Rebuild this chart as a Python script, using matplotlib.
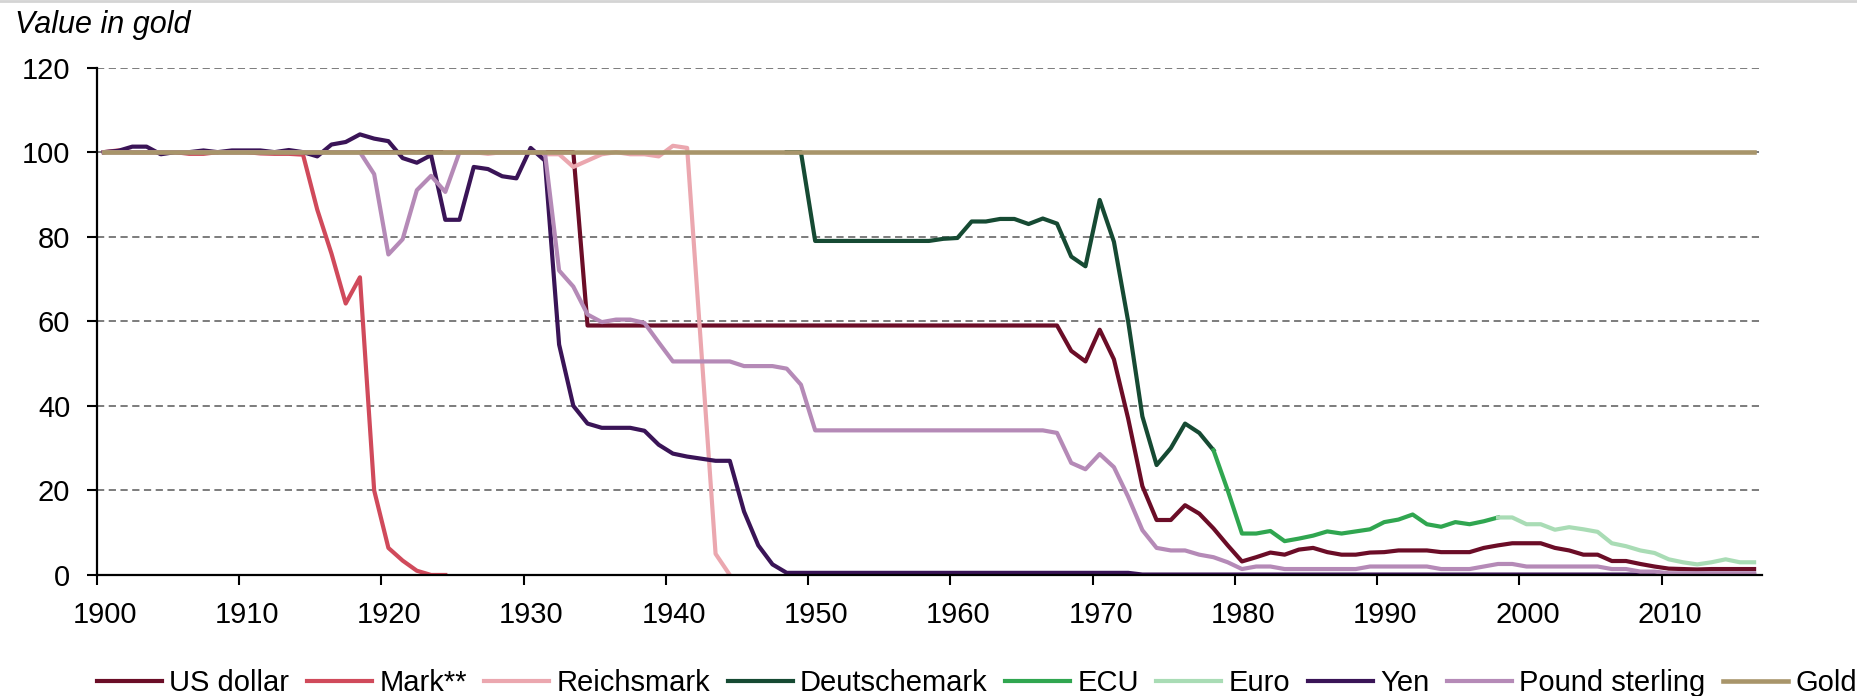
import numpy as np
import matplotlib
matplotlib.use("Agg")
from matplotlib import pyplot as plt
from matplotlib.lines import Line2D
from matplotlib.transforms import ScaledTranslation

# region data
title = "Value in gold"
y_ticks = [0, 20, 40, 60, 80, 100, 120]
x_ticks = [1900, 1910, 1920, 1930, 1940, 1950, 1960, 1970, 1980, 1990, 2000, 2010]

usd_years = np.arange(1900, 2017)
usd = [100, 100, 100, 100, 100, 100, 100, 100, 100, 100,
       100, 100, 100, 100, 100, 100, 100, 100, 100, 100,
       100, 100, 100, 100, 100, 100, 100, 100, 100, 100,
       100, 100, 100, 100, 59, 59, 59, 59, 59, 59,
       59, 59, 59, 59, 59, 59, 59, 59, 59, 59,
       59, 59, 59, 59, 59, 59, 59, 59, 59, 59,
       59, 59, 59, 59, 59, 59, 59, 59, 53, 50.5,
       58, 51, 37, 21, 13, 13, 16.5, 14.5, 11, 7,
       3.2, 4.2, 5.3, 4.8, 6, 6.4, 5.4, 4.8, 4.8, 5.3,
       5.4, 5.8, 5.8, 5.8, 5.4, 5.4, 5.4, 6.4, 7, 7.5,
       7.5, 7.5, 6.4, 5.8, 4.8, 4.8, 3.3, 3.3, 2.6, 2,
       1.5, 1.4, 1.3, 1.4, 1.4, 1.4, 1.4]

mark_years = np.arange(1900, 1925)
mark = [100, 100.4, 100, 100, 100, 100, 99.6, 99.6, 100, 100,
        100, 99.7, 99.6, 99.6, 99.4, 86.4, 76, 64.2, 70.4, 20,
        6.4, 3.4, 1, 0, 0]

reichsmark_years = np.arange(1924, 1945)
reichsmark = [100, 100, 100, 99.6, 100, 100,
              100, 99.5, 99.5, 96.5, 98, 99.5, 100, 99.5, 99.5, 99,
              101.5, 101, 53, 5, 0]

dm_years = np.arange(1948, 1979)
dm = [100, 100,
      79, 79, 79, 79, 79, 79, 79, 79, 79, 79.5,
      79.7, 83.6, 83.6, 84.2, 84.2, 83, 84.3, 83.1, 75.3, 73,
      88.7, 78.8, 60, 37.5, 26, 30, 35.8, 33.6, 29.5]

ecu_years = np.arange(1978, 1999)
ecu = [29.5, 20,
       9.8, 9.8, 10.4, 8, 8.6, 9.3, 10.3, 9.8, 10.3, 10.8,
       12.5, 13.1, 14.3, 12, 11.4, 12.5, 12, 12.7, 13.6]

euro_years = np.arange(1998, 2017)
euro = [13.6, 13.6,
        12, 12, 10.7, 11.3, 10.8, 10.2, 7.5, 6.8, 5.8, 5.2,
        3.7, 3, 2.5, 3, 3.7, 3, 3]

yen_years = np.arange(1900, 2017)
yen = [100, 100.3, 101.3, 101.3, 99.5, 100, 100, 100.4, 100, 100.4,
       100.4, 100.4, 100, 100.5, 100, 99, 101.8, 102.4, 104.2, 103.2,
       102.6, 98.6, 97.5, 99.3, 84, 84, 96.5, 96, 94.3, 93.8,
       101, 98, 54.5, 40, 35.8, 34.8, 34.8, 34.8, 34.1, 30.8,
       28.7, 28, 27.5, 27, 27, 15, 7, 2.5, 0.5, 0.5,
       0.5, 0.5, 0.5, 0.5, 0.5, 0.5, 0.5, 0.5, 0.5, 0.5,
       0.5, 0.5, 0.5, 0.5, 0.5, 0.5, 0.5, 0.5, 0.5, 0.5,
       0.5, 0.5, 0.5, 0.1, 0.1, 0.1, 0.1, 0.1, 0.1, 0.1,
       0.1, 0.1, 0.1, 0.1, 0.1, 0.1, 0.1, 0.1, 0.1, 0.1,
       0.1, 0.1, 0.1, 0.1, 0.1, 0.1, 0.1, 0.1, 0.1, 0.1,
       0.1, 0.1, 0.1, 0.1, 0.1, 0.1, 0.1, 0.1, 0.1, 0.1,
       0.1, 0.1, 0.1, 0.1, 0.1, 0.1, 0.1]

gbp_years = np.arange(1900, 2017)
gbp = [100, 100, 100, 100, 100, 100, 100, 100, 100, 100,
       100, 100, 100, 100, 100, 100, 100, 100, 100, 94.8,
       75.8, 79.4, 91, 94.4, 90.6, 100, 100, 100, 100, 100,
       100, 100, 72, 68.2, 61.6, 59.8, 60.4, 60.4, 59.6, 55,
       50.5, 50.5, 50.5, 50.5, 50.5, 49.4, 49.4, 49.4, 48.8, 45,
       34.2, 34.2, 34.2, 34.2, 34.2, 34.2, 34.2, 34.2, 34.2, 34.2,
       34.2, 34.2, 34.2, 34.2, 34.2, 34.2, 34.2, 33.6, 26.5, 25,
       28.6, 25.5, 18.5, 10.6, 6.4, 5.8, 5.8, 4.8, 4.2, 3,
       1.4, 2, 2, 1.4, 1.4, 1.4, 1.4, 1.4, 1.4, 2,
       2, 2, 2, 2, 1.4, 1.4, 1.4, 2, 2.6, 2.6,
       2, 2, 2, 2, 2, 2, 1.4, 1.4, 0.8, 0.8,
       0.4, 0.4, 0.4, 0.4, 0.4, 0.4, 0.4]

gold_years = np.arange(1900, 2017)
gold = [100] * len(gold_years)

series = [
    ("US dollar", usd_years, usd, "#6B0D27"),
    ("Mark**", mark_years, mark, "#D04A5B"),
    ("Reichsmark", reichsmark_years, reichsmark, "#EBA7AF"),
    ("Deutschemark", dm_years, dm, "#164A33"),
    ("ECU", ecu_years, ecu, "#30A650"),
    ("Euro", euro_years, euro, "#A9DCB5"),
    ("Yen", yen_years, yen, "#3A1457"),
    ("Pound sterling", gbp_years, gbp, "#B58AB7"),
    ("Gold", gold_years, gold, "#A8956A"),
]
# endregion

plt.rcParams['font.family'] = ['Liberation Sans', 'DejaVu Sans']
FS = 21

fig = plt.figure(figsize=(18.57, 6.96), dpi=100)
ax = fig.add_axes([0.0521, 0.1739, 0.8967, 0.729])

# annual values sit mid-year, as in the source chart
for name, yrs, vals, col in series:
    lw = 3.3 if name == "Gold" else 3.0
    ax.plot(yrs + 0.5, vals, color=col, lw=lw, label=name, solid_joinstyle='round')

ax.set_xlim(1900, 2017.05)
ax.set_ylim(0, 120)
ax.set_xticks(x_ticks)
ax.set_yticks(y_ticks)
ax.yaxis.grid(True, color='#727272', lw=1.3, linestyle=(0, (4, 2.5)))
ax.set_axisbelow(True)
for s in ['top', 'right']:
    ax.spines[s].set_visible(False)
for s in ['left', 'bottom']:
    ax.spines[s].set_linewidth(1.6)
    ax.spines[s].set_color('black')
ax.tick_params(axis='both', direction='out', length=7, width=1.5, labelsize=FS, pad=12)

# the year labels sit a little right of their ticks in the source
shift = ScaledTranslation(8 / 100, 0, fig.dpi_scale_trans)
for lab in ax.get_xticklabels():
    lab.set_transform(lab.get_transform() + shift)

fig.text(15 / 1857, 1 - 33 / 696, title, fontsize=22, style='italic', va='baseline')
fig.add_artist(Line2D([0, 1], [0.998, 0.998], color='#d4d4d4', lw=2, transform=fig.transFigure))

fig.legend(loc='center left', bbox_to_anchor=(97 / 1857, 1 - 683 / 696), ncol=9,
           frameon=False, fontsize=FS, handlelength=2.23, handletextpad=0.25,
           columnspacing=0.6, borderpad=0, borderaxespad=0)

fig.savefig("out.png", dpi=100)
